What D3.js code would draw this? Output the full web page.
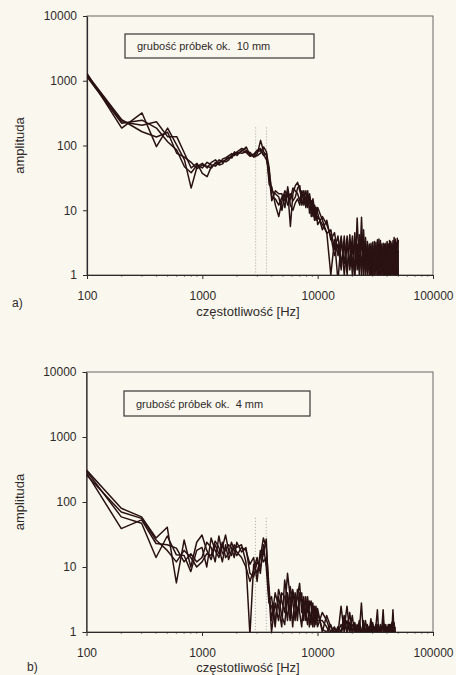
<!DOCTYPE html>
<html>
<head>
<meta charset="utf-8">
<script src="https://cdn.jsdelivr.net/npm/d3@7"></script>
<style>
  body { margin: 0; background: #faf8ee; }
  svg text { font-family: "Liberation Sans", Arial, sans-serif; fill: #2e2a2a; }
  .series { fill: none; stroke: #2a1212; stroke-width: 1.5; stroke-linejoin: round; }
  .marker { stroke: #aaa59c; stroke-width: 1; stroke-dasharray: 1,2; }
  .frame { fill: none; stroke: #6a6464; stroke-width: 1; }
  .axis path, .axis line { stroke: #2e2a2a; }
  .minor { stroke: #888; }
  .legend-box { fill: none; stroke: #3a3434; stroke-width: 1.2; }
</style>
</head>
<body>
<svg id="fig" width="456" height="675"></svg>
<script>
// frequency grid [Hz], shared by all measured curves
const freqs = [100,200,300,400,500,600,700,800,900,1000,
  1100,1200,1300,1400,1500,1600,1700,1800,1900,2000,
  2200,2400,2600,2800,3000,3200,3400,3600,3800,4000,
  4300,4600,4900,5200,5500,5800,6100,6400,6700,7000,
  7300,7600,7900,8200,8500,8800,9100,9400,9700,10000,
  11000,12000,13000,14000,15000,16000,17000,18000,19000,20000,
  21000,22000,23000,24000,25000,26000,27000,28000,29000,30000,
  31000,32000,33000,34000,35000,36000,37000,38000,39000,40000,
  41000,42000,43000,44000,45000,46000,47000,48000,49000,50000];

// a) samples about 10 mm thick
const ampA1 = [1300,186,318,96,186,101,60,22,47,53,
  45,55,60,52,62,65,70,75,72,80,
  90,84,72,68,75,120,80,70,30,16,
  15,12,16,14,20,5.6,18,24,27,20,
  16,18,12,17,14,10,13,9,7,8,
  6,4.5,1,3.5,0.8,3.5,1.5,4,1.2,3,
  0.8,7.6,1.2,4,0.9,3.8,1.1,3,0.8,3.2,
  1,2.6,0.8,3.6,1.2,2.4,0.9,3,1,2.8,
  0.8,3.4,1.1,2.5,0.9,3.8,1,2.6,0.8,3.5];
const ampA2 = [1200,233,206,233,137,137,76,45,53,37,
  33,48,52,60,55,60,64,68,80,74,
  82,95,70,74,85,90,72,60,40,20,
  18,16,10,18,12,15,22,20,18,14,
  20,12,16,20,9,14,8,12,10,6,
  8,6,4,2,3,1.2,4,1,3.5,1.3,
  4.5,1.2,3.5,1,5,1.2,3.3,1,2.8,0.9,
  3.3,1,2.9,0.8,3.4,1.1,2.7,0.9,3.1,1,
  2.6,0.9,3.3,1.2,2.8,0.8,3.6,1,2.5,1.1];
const ampA3 = [1150,220,246,186,114,85,47,38,50,45,
  55,50,48,55,58,56,60,72,70,78,
  76,80,78,66,70,76,95,80,25,23,
  12,8,14,20,16,18,14,16,22,24,
  12,16,20,11,16,8,11,7,11,9,
  5,7,3.5,4.5,2,4,1,3,1.5,4,
  1.2,3,1,7.8,1.2,3,1,2.8,1.3,2.5,
  1,3.2,1.3,2.6,0.9,3,1.2,2.4,0.8,3.3,
  1.2,2.5,0.9,3.1,1.1,2.7,0.8,3.2,1.2,2.4];
const ampA4 = [1250,250,163,135,160,76,66,55,44,50,
  48,45,55,50,52,62,66,64,76,70,
  85,78,68,72,80,84,70,76,45,14,
  20,18,18,11,23,12,10,13,15,12,
  18,20,11,14,18,12,15,10,8,11,
  7,4.4,5,2.5,4,1.5,3,1.2,4.2,1,
  3,1.5,4.2,1.3,3,1,2.6,1.2,3.1,1,
  2.8,1.2,3.5,1,2.6,0.9,3.1,1.1,2.5,0.8,
  3,1,2.7,0.9,3.4,1.1,2.3,0.9,3.7,1];

// b) samples about 4 mm thick (measured up to ~47 kHz)
const ampB1 = [310,80,59,28,41,5.7,26,10,24,31,
  18,13,22,16,20,31,18,15,22,20,
  22,12,0.9,11,8,14,28,20,5,1.5,
  4,2.5,1.2,6.3,3,1.5,4,2.5,3.5,5.6,
  2,3.5,1.5,3.5,2,1.3,2.8,1.5,2.5,1.2,
  2,1.5,1,1.2,0.9,2.5,1,1.5,1,1.8,
  0.9,1.3,1,2.8,0.9,1.5,1,1.2,0.9,1.4,
  1,1.2,2.2,0.9,1.3,1,1.5,0.9,1.2,1,
  1.3,0.9,1.2,1,2.2,1,0.9];
const ampB2 = [280,39,53,23,22,19.5,12,16,12,14,
  24,20,12,30,16,18,22,20,14,24,
  17,20,8,7,12,10,16,27,3,3.5,
  1.2,4.5,3,2,8,3.5,1.2,4,2,3,
  4,1.5,3.5,2,3,2.5,1.2,2.5,1.5,2,
  1.1,1,1.3,0.9,1.2,1,1.8,1,1.4,1,
  1.2,1,1.5,1,1.1,0.9,1.3,1,1.6,1,
  0.9,1.3,1,1.2,0.9,1.1,2.2,1,0.9,1.2,
  1,1.1,0.9,1.4,1,1.2,1];
const ampB3 = [300,59,47,14,30,15.4,15,8.5,18,20,
  10,28,18,14,24,14,16,24,18,15,
  20,18,11,14,6,18,12,14,4,1,
  2.8,1.5,4,3.5,1.5,5,3,1.5,4.5,2,
  1.2,3,2,1.3,2.5,3,2,1.2,2.2,1.5,
  1.5,1.2,0.9,1.1,1,1.3,1.1,2.5,1,1.3,
  1.1,0.9,1.2,1,1.3,1.1,0.9,1.2,1,1.3,
  1.2,0.9,1.1,1,1.2,0.9,1,1.3,1,0.9,
  1.2,1,1.3,0.9,1.1,0.9,1.2];
const ampB4 = [260,70,56,26,18,12,18,14,10,12,
  16,15,25,20,12,22,13,18,20,17,
  14,10,6,9,14,8,22,10,2.8,2.5,
  1.5,3.5,1.8,1.3,4,2,4.5,3,1.5,4,
  3,2.2,2.8,3,1.2,2,2.5,2,1.3,2.3,
  1,1.8,1.2,1,1.1,0.9,1.5,1,2,1,
  1.4,1,1.2,0.9,1.5,1,1.1,0.9,1.3,1,
  1.1,1,1.3,1,0.9,1.2,1.1,1,1.3,0.9,
  1.1,1.3,1,1.2,0.9,1.4,1];

// dotted reference lines [Hz]
const markerFreqs = [2900, 3600];

const xTicks = [100, 1000, 10000, 100000];
const yTicks = [1, 10, 100, 1000, 10000];

class SpectrumChart {

    constructor(_config, _series) {
        this.config = {
            parentElement: _config.parentElement,
            id: _config.id,
            left: _config.left,
            top: _config.top,
            width: _config.width,
            height: _config.height,
            legendText: _config.legendText,
            legendBox: _config.legendBox,
            label: _config.label,
            labelPos: _config.labelPos,
            titleY: _config.titleY,
            markerTop: _config.markerTop,
            xAxisColor: _config.xAxisColor || '#2e2a2a'
        }
        this.series = _series;
        this.initVis();
    }

    initVis() {
        let vis = this;
        let cfg = vis.config;

        vis.svg = d3.select(cfg.parentElement);
        vis.chart = vis.svg.append('g')
            .attr('transform', `translate(${cfg.left},${cfg.top})`);

        vis.xScale = d3.scaleLog().domain([100, 100000]).range([0, cfg.width]);
        vis.yScale = d3.scaleLog().domain([1, 10000]).range([cfg.height, 0]);

        // clip curves to plot area (values under 1 fall off the axis)
        vis.chart.append('clipPath').attr('id', `clip-${cfg.id}`)
            .append('rect')
            .attr('width', cfg.width)
            .attr('height', cfg.height);

        // plot frame
        vis.chart.append('rect')
            .attr('class', 'frame')
            .attr('width', cfg.width)
            .attr('height', cfg.height);

        // minor x ticks
        vis.chart.append('g').selectAll('line')
            .data(vis.xScale.ticks().filter(t => !xTicks.includes(t)))
            .join('line')
                .attr('class', 'minor')
                .attr('x1', d => vis.xScale(d))
                .attr('x2', d => vis.xScale(d))
                .attr('y1', cfg.height)
                .attr('y2', cfg.height + 2);

        vis.xAxis = d3.axisBottom(vis.xScale)
            .tickValues(xTicks)
            .tickFormat(d3.format('d'))
            .tickSize(4)
            .tickSizeOuter(0)
            .tickPadding(12);
        vis.yAxis = d3.axisLeft(vis.yScale)
            .tickValues(yTicks)
            .tickFormat(d3.format('d'))
            .tickSize(4)
            .tickSizeOuter(0)
            .tickPadding(6);

        vis.xAxisGroup = vis.chart.append('g')
            .attr('class', 'axis x-axis')
            .attr('transform', `translate(0,${cfg.height})`)
            .call(vis.xAxis);
        vis.xAxisGroup.select('.domain').attr('stroke', cfg.xAxisColor).attr('stroke-width', 1.2);

        vis.yAxisGroup = vis.chart.append('g')
            .attr('class', 'axis y-axis')
            .call(vis.yAxis);
        vis.yAxisGroup.select('.domain').attr('stroke-width', 1.2);

        vis.svg.selectAll('.axis text')
            .style('font-size', '12px');

        // legend box
        let lb = cfg.legendBox;
        vis.chart.append('rect')
            .attr('class', 'legend-box')
            .attr('x', lb.x - cfg.left)
            .attr('y', lb.y - cfg.top)
            .attr('width', lb.w)
            .attr('height', lb.h);
        vis.chart.append('text')
            .attr('x', lb.x - cfg.left + 12)
            .attr('y', lb.y - cfg.top + lb.h / 2 + 4)
            .style('font-size', '11px')
            .style('white-space', 'pre')
            .text(cfg.legendText);

        // axis titles
        vis.svg.append('text')
            .attr('text-anchor', 'middle')
            .attr('transform', `translate(${cfg.left - 63},${cfg.top + cfg.height / 2}) rotate(-90)`)
            .style('font-size', '13px')
            .text('amplituda');

        vis.svg.append('text')
            .attr('text-anchor', 'middle')
            .attr('x', 248)
            .attr('y', cfg.titleY)
            .style('font-size', '13px')
            .text('częstotliwość [Hz]');

        vis.svg.append('text')
            .attr('x', cfg.labelPos[0])
            .attr('y', cfg.labelPos[1])
            .style('font-size', '12px')
            .text(cfg.label);

        vis.line = d3.line()
            .x((d, i) => vis.xScale(freqs[i]))
            .y(d => vis.yScale(d));

        vis.renderVis();
    }

    renderVis() {
        let vis = this;
        let cfg = vis.config;

        // dotted markers
        vis.chart.append('g').selectAll('.marker')
            .data(markerFreqs)
            .join('line')
                .attr('class', 'marker')
                .attr('x1', d => vis.xScale(d))
                .attr('x2', d => vis.xScale(d))
                .attr('y1', vis.yScale(cfg.markerTop))
                .attr('y2', cfg.height);

        vis.chart.append('g')
            .attr('clip-path', `url(#clip-${cfg.id})`)
            .selectAll('.series')
            .data(vis.series)
            .join('path')
                .attr('class', 'series')
                .attr('d', d => vis.line(d));
    }
}

new SpectrumChart({
    parentElement: '#fig', id: 'a',
    left: 87, top: 16, width: 346, height: 259,
    legendText: 'grubość próbek ok.  10 mm',
    legendBox: { x: 125, y: 34, w: 189, h: 24 },
    label: 'a)', labelPos: [12, 307],
    titleY: 316,
    markerTop: 190
}, [ampA1, ampA2, ampA3, ampA4]);

new SpectrumChart({
    parentElement: '#fig', id: 'b',
    left: 86.5, top: 372, width: 346.5, height: 260,
    legendText: 'grubość próbek ok.  4 mm',
    legendBox: { x: 124, y: 391, w: 186, h: 25 },
    label: 'b)', labelPos: [27, 671],
    titleY: 672,
    markerTop: 57,
    xAxisColor: '#8a3a3a'
}, [ampB1, ampB2, ampB3, ampB4]);
</script>
</body>
</html>
